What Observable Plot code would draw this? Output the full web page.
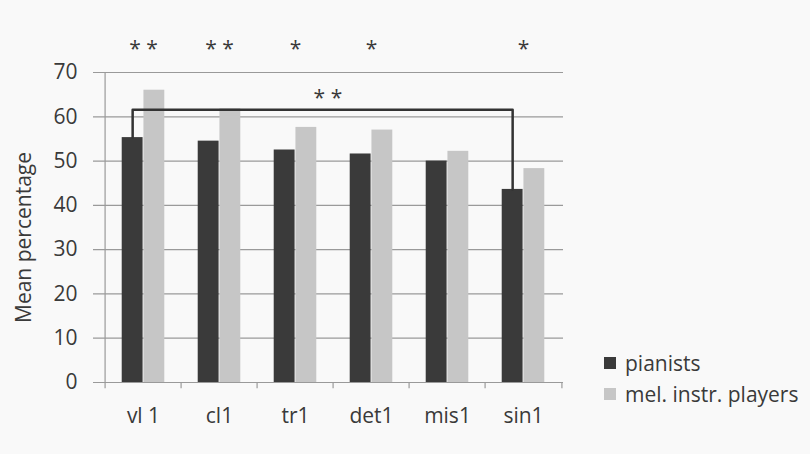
<!DOCTYPE html>
<html><head><meta charset="utf-8">
<script src="https://cdn.jsdelivr.net/npm/d3@7"></script>
<script src="https://cdn.jsdelivr.net/npm/@observablehq/plot@0.6"></script>
<style>
html,body{margin:0;padding:0;background:#f9f9f9;}
#wrap{position:relative;width:810px;height:454px;overflow:hidden;}
.legend{position:absolute;left:604px;top:347px;font-family:"Open Sans",sans-serif;font-size:21px;color:#3a3a3a;line-height:30px;}
.item{display:flex;align-items:center;height:31px;white-space:nowrap;}
.sw{width:12px;height:12px;margin-right:9px;flex:none;}
</style></head><body><div id="wrap"></div>
<script>
const categories = ["vl 1", "cl1", "tr1", "det1", "mis1", "sin1"];
const pianists = [55.3, 54.5, 52.5, 51.6, 50.0, 43.6];
const melodic = [66.0, 61.8, 57.6, 57.0, 52.2, 48.3];
const seriesNames = ["pianists", "mel. instr. players"];
const groupStars = ["* *", "* *", "*", "*", "", "*"];
const yTicks = [0, 10, 20, 30, 40, 50, 60, 70];
const bracketFrom = "vl 1";
const bracketTo = "sin1";
const bracketLevel = 61.6;
const bracketStars = "* *";
const starLevel = 75.2;
const bracketStarLevel = 64.1;

const colors = ["#3a3a3a", "#c6c6c6"];
const ink = "#3a3a3a";
const gridColor = "#9a9a9a";
const font = "'Open Sans', sans-serif";

const W = 810, H = 454, mL = 102, mR = 247, mT = 72, mB = 72;
const step = (W - mL - mR) / categories.length;
const barW = 21.7;
const gap = (step - 2 * barW) / 2;

const pData = categories.map((c, i) => ({cat: c, value: pianists[i]}));
const mData = categories.map((c, i) => ({cat: c, value: melodic[i]}));
const starData = categories.map((c, i) => ({cat: c, text: groupStars[i], y: starLevel}));
const iFrom = categories.indexOf(bracketFrom), iTo = categories.indexOf(bracketTo);
const bracket = [
  {x: bracketFrom, y: pianists[iFrom]},
  {x: bracketFrom, y: bracketLevel},
  {x: bracketTo, y: bracketLevel},
  {x: bracketTo, y: pianists[iTo]}
];
const bracketLabel = [{x: categories[2], y: bracketStarLevel, text: bracketStars}];
const pCenterOffset = gap + barW / 2 - step / 2;

const chart = Plot.plot({
  width: W, height: H,
  marginLeft: mL, marginRight: mR, marginTop: mT, marginBottom: mB,
  style: {fontFamily: font, fontSize: "21px", color: ink, background: "#f9f9f9", overflow: "visible"},
  x: {domain: categories, padding: 0, axis: null},
  y: {domain: [0, 70], axis: null},
  marks: [
    Plot.ruleY(yTicks, {y: d => d, stroke: gridColor, strokeWidth: 1.2, insetLeft: -9}),
    Plot.ruleX([categories[0]], {x: d => d, dx: -step / 2, y1: 0, y2: 70, stroke: gridColor, strokeWidth: 1.2}),
    Plot.ruleX(categories, {x: d => d, dx: -step / 2, y1: 0, y2: -1.4, stroke: gridColor, strokeWidth: 1.2}),
    Plot.ruleX([categories[categories.length - 1]], {x: d => d, dx: step / 2, y1: 0, y2: -1.4, stroke: gridColor, strokeWidth: 1.2}),
    Plot.barY(pData, {x: "cat", y: "value", fill: colors[0], insetLeft: gap, insetRight: gap + barW}),
    Plot.barY(mData, {x: "cat", y: "value", fill: colors[1], insetLeft: gap + barW, insetRight: gap}),
    Plot.line(bracket, {x: "x", y: "y", dx: pCenterOffset, stroke: "#333", strokeWidth: 2.5}),
    Plot.axisY({ticks: yTicks, tickSize: 0, tickPadding: 25, label: null, fill: ink, fontSize: 21}),
    Plot.axisX({tickSize: 0, tickPadding: 26, label: null, fill: ink, fontSize: 21}),
    Plot.text(starData, {x: "cat", y: "y", text: "text", fill: ink, fontSize: 21}),
    Plot.text(bracketLabel, {x: "x", y: "y", text: "text", dx: step / 2 - 6, fill: ink, fontSize: 21}),
    Plot.text(["Mean percentage"], {frameAnchor: "left", textAnchor: "middle", dx: -78, dy: 10, rotate: -90, text: d => d, fill: ink, fontSize: 21})
  ]
});

const wrap = document.getElementById("wrap");
wrap.appendChild(chart);
const legend = document.createElement("div");
legend.className = "legend";
seriesNames.forEach((name, i) => {
  const item = document.createElement("div");
  item.className = "item";
  const sw = document.createElement("span");
  sw.className = "sw";
  sw.style.background = colors[i];
  const t = document.createElement("span");
  t.textContent = name;
  item.appendChild(sw);
  item.appendChild(t);
  legend.appendChild(item);
});
wrap.appendChild(legend);
</script>
</body></html>
